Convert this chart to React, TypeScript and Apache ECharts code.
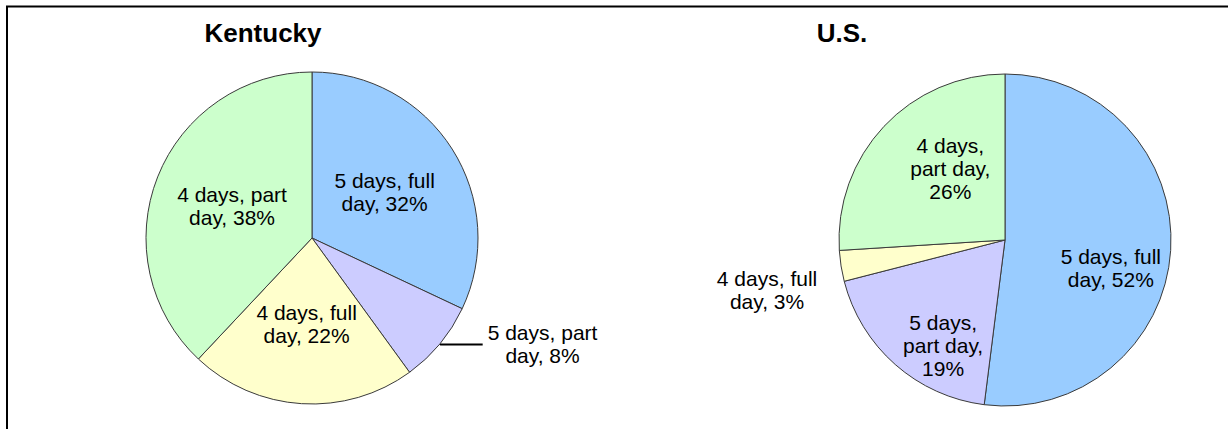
import React, { useEffect, useRef } from "react";
import * as echarts from "echarts";

const categories = ["5 days, full day", "5 days, part day", "4 days, full day", "4 days, part day"];
const kentuckyValues = [32, 8, 22, 38];
const usValues = [52, 19, 3, 26];
const titles = ["Kentucky", "U.S."];
const colors = ["#99CCFF", "#CCCCFF", "#FFFFCC", "#CCFFCC"];

// label nudges [dx, dy] relative to ECharts' default label placement
const NUDGE = [
  [[0, 0], [0, 0], [0, 0], [0, 0]],
  [[20, 23], [-5, 41], [-69, 24], [8, -13]],
];

const FONT = "'Liberation Sans', Arial, sans-serif";

function makeLabel(name: string, value: number, multi: boolean) {
  const parts = name.split(", ");
  if (multi) return `${parts[0]},\n${parts[1]},\n${value}%`;
  return `${parts[0]}, ${parts[1].split(" ")[0]}\n${parts[1].split(" ")[1]}, ${value}%`;
}

export default function App() {
  const ref = useRef<HTMLDivElement>(null);
  useEffect(() => {
    if (!ref.current) return;
    const chart = echarts.init(ref.current, null, { renderer: "svg" });
    const usMulti = [false, true, false, true];
    const mkData = (vals: number[], si: number) =>
      vals.map((v, i) => {
        const outside = (si === 0 && i === 1) || (si === 1 && i === 2);
        const multi = si === 1 && usMulti[i];
        const item: any = {
          name: categories[i],
          value: v,
          itemStyle: { color: colors[i] },
          label: {
            formatter: makeLabel(categories[i], v, multi),
            position: outside ? "outside" : "inside",
          },
        };
        if (outside) {
          item.labelLine =
            si === 0
              ? { show: true, length: 1, length2: 42, smooth: false, lineStyle: { color: "#000", width: 2 } }
              : { show: false, length: 0, length2: 0 };
        }
        return item;
      });
    const layoutFor = (si: number) => (params: any) => {
      const i = params.dataIndex;
      const [dx, dy] = NUDGE[si][i];
      if (si === 0 && i === 1) {
        return { align: "center", dx: params.labelRect.width / 2 };
      }
      if (si === 1 && i === 2) {
        return { align: "center", dx, dy };
      }
      return { dx, dy };
    };
    const baseSeries = {
      type: "pie",
      radius: 166,
      startAngle: 90,
      clockwise: true,
      avoidLabelOverlap: false,
      itemStyle: { borderColor: "#3a3a3a", borderWidth: 1 },
      label: {
        show: true,
        color: "#000",
        fontFamily: FONT,
        fontSize: 21,
        lineHeight: 23,
        align: "center",
      },
      emphasis: { disabled: true },
    };
    const titleStyle = { fontFamily: FONT, fontSize: 26, fontWeight: "bold", color: "#000" };
    chart.setOption({
      animation: false,
      backgroundColor: "#fff",
      title: [
        { text: titles[0], left: 258, top: 28, textAlign: "center", textVerticalAlign: "middle", textStyle: titleStyle },
        { text: titles[1], left: 837, top: 28, textAlign: "center", textVerticalAlign: "middle", textStyle: titleStyle },
      ],
      graphic: [
        {
          type: "rect",
          shape: { x: 7, y: 6.5, width: 1260, height: 460 },
          style: { fill: "none", stroke: "#000", lineWidth: 2 },
          silent: true,
        },
      ],
      series: [
        { ...baseSeries, center: [312, 238], data: mkData(kentuckyValues, 0), labelLayout: layoutFor(0) },
        { ...baseSeries, center: [1005, 240], data: mkData(usValues, 1), labelLayout: layoutFor(1) },
      ],
    });
    return () => chart.dispose();
  }, []);
  return (
    <div
      ref={ref}
      style={{ position: "fixed", left: 0, top: 0, width: 1228, height: 429 }}
    />
  );
}
